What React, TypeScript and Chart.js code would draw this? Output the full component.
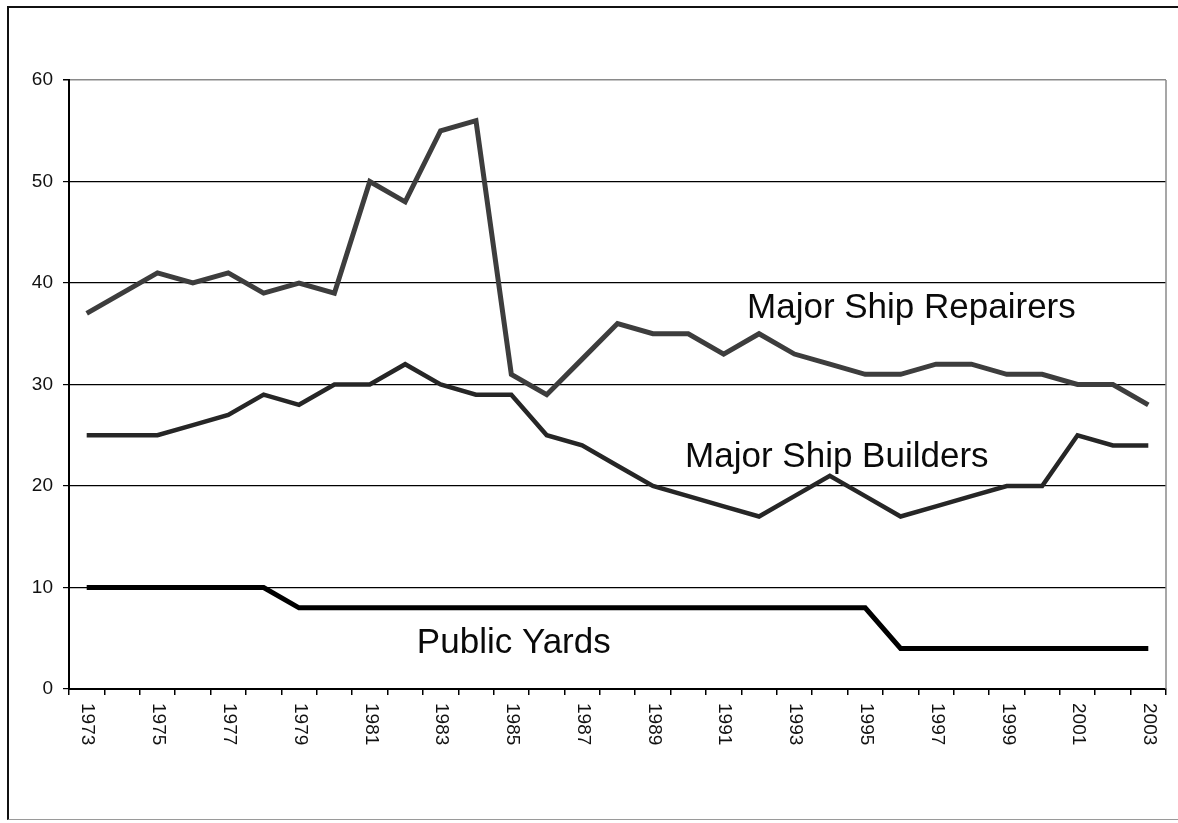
import React, { useEffect, useRef } from "react";
import { Chart, registerables } from "chart.js";

Chart.register(...registerables);

const years = [
  "1973", "1974", "1975", "1976", "1977", "1978", "1979", "1980", "1981", "1982",
  "1983", "1984", "1985", "1986", "1987", "1988", "1989", "1990", "1991", "1992",
  "1993", "1994", "1995", "1996", "1997", "1998", "1999", "2000", "2001", "2002",
  "2003",
];

const shipRepairers = [
  37, 39, 41, 40, 41, 39, 40, 39, 50, 48,
  55, 56, 31, 29, 32.5, 36, 35, 35, 33, 35,
  33, 32, 31, 31, 32, 32, 31, 31, 30, 30,
  28,
];

const shipBuilders = [
  25, 25, 25, 26, 27, 29, 28, 30, 30, 32,
  30, 29, 29, 25, 24, 22, 20, 19, 18, 17,
  19, 21, 19, 17, 18, 19, 20, 20, 25, 24,
  24,
];

const publicYards = [
  10, 10, 10, 10, 10, 10, 8, 8, 8, 8,
  8, 8, 8, 8, 8, 8, 8, 8, 8, 8,
  8, 8, 8, 4, 4, 4, 4, 4, 4, 4,
  4,
];

const yTicks = [0, 10, 20, 30, 40, 50, 60];

// In-chart series names, anchored at (category position, value) of their left baseline
const seriesNames = ["Major Ship Repairers", "Major Ship Builders", "Public Yards"];
const nameAnchorIndex = [18.66, 16.91, 9.33];
const nameAnchorValue = [36.6, 21.9, 3.55];

const FONT = "'Liberation Sans', Arial, Helvetica, sans-serif";

const overlayPlugin = {
  id: "overlay",
  afterDraw(chart: any) {
    const { ctx, chartArea, scales } = chart;
    const xs = scales.x;
    const ys = scales.y;
    const x0 = xs.getPixelForValue(0);
    const x1 = xs.getPixelForValue(1);
    const step = x1 - x0;

    ctx.save();
    // right edge of the plot area
    ctx.strokeStyle = "#8a8a8a";
    ctx.lineWidth = 1.5;
    ctx.beginPath();
    ctx.moveTo(chartArea.right, chartArea.top);
    ctx.lineTo(chartArea.right, chartArea.bottom);
    ctx.stroke();

    // rotated year labels, every second year
    ctx.fillStyle = "#111";
    ctx.font = `19px ${FONT}`;
    ctx.textAlign = "left";
    ctx.textBaseline = "middle";
    years.forEach((label, i) => {
      if (i % 2 !== 0) return;
      const x = xs.getPixelForValue(i);
      ctx.save();
      ctx.translate(x + 1, chartArea.bottom + 14);
      ctx.rotate(Math.PI / 2);
      ctx.fillText(label, 0, 0);
      ctx.restore();
    });

    // series names drawn inside the plot
    ctx.font = `35px ${FONT}`;
    ctx.textBaseline = "alphabetic";
    ctx.fillStyle = "#0a0a0a";
    seriesNames.forEach((name, i) => {
      const px = x0 + step * nameAnchorIndex[i];
      const py = ys.getPixelForValue(nameAnchorValue[i]);
      ctx.fillText(name, px, py);
    });
    ctx.restore();
  },
};

export default function App() {
  const canvasRef = useRef<HTMLCanvasElement | null>(null);

  useEffect(() => {
    const canvas = canvasRef.current;
    if (!canvas) return;
    const chart = new Chart(canvas, {
      type: "line",
      data: {
        labels: years,
        datasets: [
          {
            label: "Major Ship Repairers",
            data: shipRepairers,
            borderColor: "#3d3d3d",
            borderWidth: 5,
            pointRadius: 0,
            tension: 0,
            fill: false,
          },
          {
            label: "Major Ship Builders",
            data: shipBuilders,
            borderColor: "#262626",
            borderWidth: 4.5,
            pointRadius: 0,
            tension: 0,
            fill: false,
          },
          {
            label: "Public Yards",
            data: publicYards,
            borderColor: "#000000",
            borderWidth: 5,
            pointRadius: 0,
            tension: 0,
            fill: false,
          },
        ],
      },
      options: {
        responsive: false,
        animation: false,
        layout: { padding: { top: 80, right: 12, left: 0, bottom: 0 } },
        plugins: {
          legend: { display: false },
          tooltip: { enabled: false },
          title: { display: false },
        },
        scales: {
          x: {
            type: "category",
            offset: true,
            afterFit(scale: any) {
              scale.height = 134;
            },
            grid: {
              offset: true,
              drawOnChartArea: false,
              drawTicks: true,
              tickLength: 6,
              color: "#000",
              lineWidth: 1.5,
            },
            border: { display: true, color: "#000", width: 2 },
            ticks: { display: false, autoSkip: false },
          },
          y: {
            min: 0,
            max: 60,
            afterFit(scale: any) {
              scale.width = 69;
            },
            afterBuildTicks(scale: any) {
              scale.ticks = yTicks.map((v) => ({ value: v }));
            },
            grid: {
              color: (c: any) => (c.tick && c.tick.value === 60 ? "#8a8a8a" : "#000"),
              lineWidth: (c: any) => (c.tick && c.tick.value === 60 ? 1.5 : 1.2),
              drawTicks: true,
              tickLength: 6,
              tickColor: "#000",
            },
            border: { display: true, color: "#000", width: 2 },
            ticks: {
              stepSize: 10,
              padding: 10,
              color: "#111",
              font: { family: FONT, size: 19 },
            },
          },
        },
      },
      plugins: [overlayPlugin],
    });
    return () => chart.destroy();
  }, []);

  return (
    <div style={{ position: "absolute", left: 0, top: 0, width: 1178, height: 823, overflow: "hidden", background: "#fff" }}>
      <canvas ref={canvasRef} width={1178} height={823} style={{ position: "absolute", left: 0, top: 0, width: 1178, height: 823 }} />
      <div
        style={{
          position: "absolute",
          left: 7,
          top: 6,
          width: 1200,
          height: 811,
          borderLeft: "2px solid #111",
          borderTop: "2px solid #111",
          borderBottom: "1px solid #9a9a9a",
          pointerEvents: "none",
        }}
      />
    </div>
  );
}
